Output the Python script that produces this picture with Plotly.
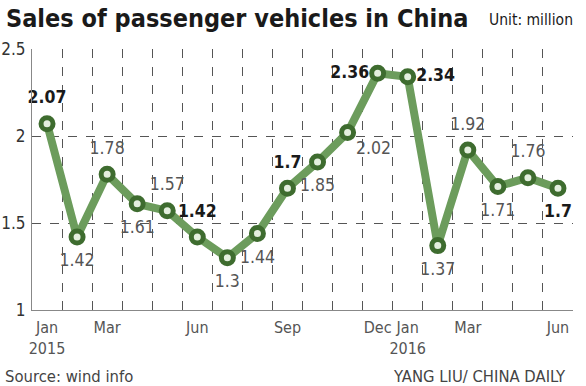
import plotly.graph_objects as go

months = ["Jan 2015", "Feb 2015", "Mar 2015", "Apr 2015", "May 2015", "Jun 2015",
          "Jul 2015", "Aug 2015", "Sep 2015", "Oct 2015", "Nov 2015", "Dec 2015",
          "Jan 2016", "Feb 2016", "Mar 2016", "Apr 2016", "May 2016", "Jun 2016"]
sales = [2.07, 1.42, 1.78, 1.61, 1.57, 1.42, 1.3, 1.44, 1.7, 1.85, 2.02, 2.36,
         2.34, 1.37, 1.92, 1.71, 1.76, 1.7]
label_pos = ["top center", "bottom center", "top center", "bottom center", "top center",
             "top center", "bottom center", "bottom center", "top center", "bottom center",
             "bottom right", "middle left", "middle right", "bottom center",
             "top center", "bottom center", "top center", "bottom center"]
bold_idx = [0, 5, 8, 11, 12, 17]

tick_idx = [0, 2, 5, 8, 11, 12, 14, 17]
tick_text = ["Jan<br>2015", "Mar", "Jun", "Sep", "Dec", "Jan<br>2016", "Mar", "Jun"]
y_ticks = [1, 1.5, 2, 2.5]
y_text = ["1", "1.5", "2", "2.5"]

FONT = "DejaVu Sans Condensed, DejaVu Sans, sans-serif"

x = list(range(len(months)))
texts = [("<b>%g</b>" % v) if i in bold_idx else ("%g" % v) for i, v in enumerate(sales)]
colors = ["#1a1a1a" if i in bold_idx else "#555555" for i in range(len(sales))]
pad = [12 if p.startswith("middle") or p.endswith("right") else 24 for p in label_pos]

fig = go.Figure()
fig.add_trace(go.Scatter(
    x=x, y=sales, mode="lines+markers",
    line=dict(color="#6c9c5c", width=8),
    marker=dict(size=12, color="#e4efdf", line=dict(color="#3e6c2f", width=5)),
    hovertext=months, hoverinfo="text+y", cliponaxis=False,
))
# value labels (transparent markers set the gap between point and label)
fig.add_trace(go.Scatter(
    x=x, y=sales, mode="markers+text",
    marker=dict(size=pad, opacity=0),
    text=texts, textposition=label_pos,
    textfont=dict(family=FONT, size=17.5, color=colors),
    hoverinfo="skip", cliponaxis=False,
))
# invisible trace that carries the month tick labels on an overlay axis
fig.add_trace(go.Scatter(x=x, y=sales, xaxis="x2", mode="markers",
                         marker=dict(opacity=0), hoverinfo="skip"))

fig.update_layout(
    width=586, height=386,
    margin=dict(l=32, r=13, t=49, b=76),
    paper_bgcolor="white", plot_bgcolor="white",
    showlegend=False,
    xaxis=dict(
        range=[-0.5, 17.5], tickmode="array", tickvals=[i + 0.5 for i in range(len(months) - 1)],
        showticklabels=False, showgrid=True, gridcolor="#555555", gridwidth=1, griddash="dash",
        zeroline=False, showline=True, linecolor="#888888", linewidth=1,
        ticks="", automargin=False, fixedrange=True,
    ),
    xaxis2=dict(
        range=[-0.5, 17.5], overlaying="x", side="bottom", tickmode="array",
        tickvals=tick_idx, ticktext=tick_text, tickangle=0, showgrid=False, zeroline=False,
        showline=False, ticks="", automargin=False, fixedrange=True, ticklabelstandoff=6,
        tickfont=dict(family=FONT, size=16, color="#555555"),
    ),
    yaxis=dict(
        range=[1, 2.5], tickmode="array", tickvals=y_ticks, ticktext=y_text,
        showgrid=True, gridcolor="#555555", gridwidth=1, griddash="dash",
        zeroline=False, showline=True, linecolor="#888888", linewidth=1, ticks="",
        ticklabelstandoff=2, automargin=False,
        tickfont=dict(family=FONT, size=17, color="#333333"), fixedrange=True,
    ),
    annotations=[
        dict(text="<b>Sales of passenger vehicles in China</b>", x=0, xref="paper", xanchor="left",
             xshift=-28, y=1, yref="paper", yanchor="middle", yshift=31, showarrow=False,
             font=dict(family=FONT, size=25, color="#1a1a1a")),
        dict(text="Unit: million", x=1, xref="paper", xanchor="right", xshift=2,
             y=1, yref="paper", yanchor="middle", yshift=29, showarrow=False,
             font=dict(family=FONT, size=15.5, color="#1a1a1a")),
        dict(text="Source: wind info", x=0, xref="paper", xanchor="left", xshift=-29,
             y=0, yref="paper", yanchor="middle", yshift=-66, showarrow=False,
             font=dict(family=FONT, size=16.5, color="#444444")),
        dict(text="YANG LIU/ CHINA DAILY", x=1, xref="paper", xanchor="right", xshift=-5,
             y=0, yref="paper", yanchor="middle", yshift=-66, showarrow=False,
             font=dict(family=FONT, size=16.5, color="#444444")),
    ],
)

fig.write_html("out.html", config={"displayModeBar": False},
               post_script="document.body.style.margin='0';")
